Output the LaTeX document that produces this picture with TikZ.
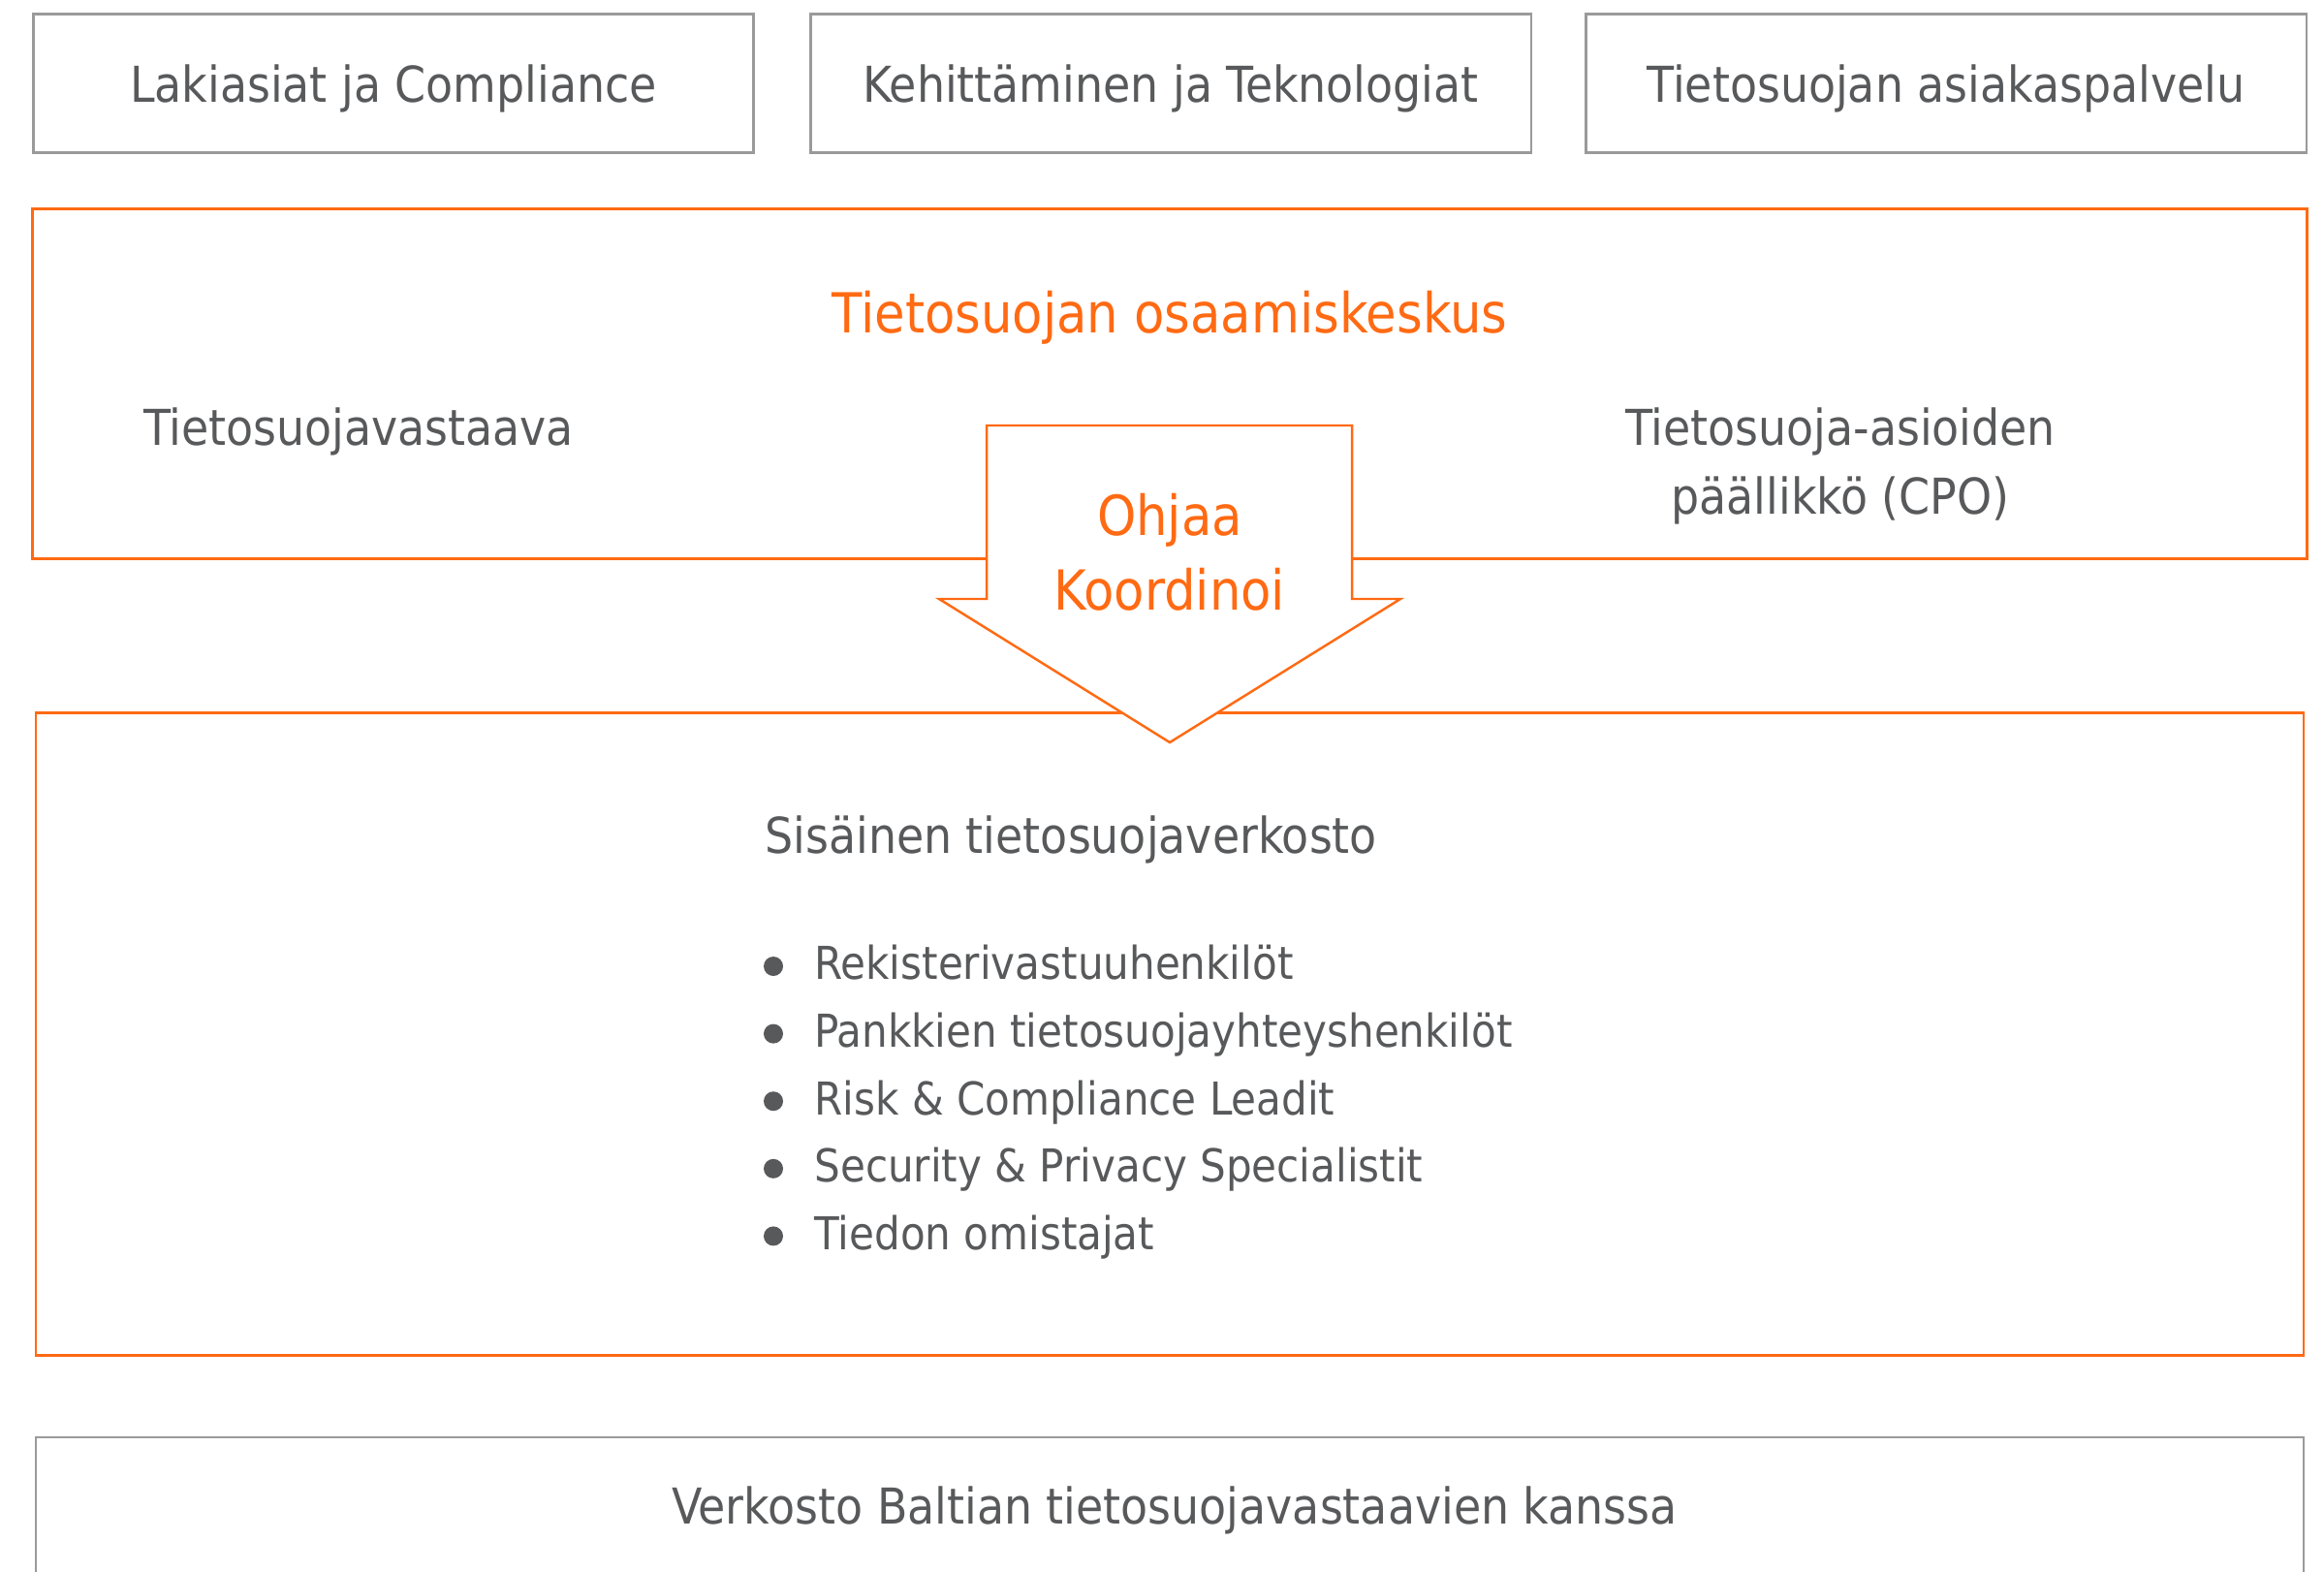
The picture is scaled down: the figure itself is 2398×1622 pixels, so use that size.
\documentclass[tikz,border=0pt]{standalone}
\usepackage{fontspec}
\setmainfont{DejaVu Sans Condensed}
\usepackage{tikz}
\definecolor{txtgray}{HTML}{58595B}
\definecolor{boxgray}{HTML}{9A9A9A}
\definecolor{nordorange}{HTML}{FF6A13}
\tikzset{
  unitbox/.style={draw=boxgray, line width=0.7pt, minimum width=7.43cm, minimum height=1.43cm, text depth=0pt, text=txtgray, font=\fontsize{14.5}{17}\selectfont},
  hubbox/.style={draw=nordorange, line width=0.7pt},
  plain/.style={text=txtgray, font=\fontsize{14.5}{20}\selectfont},
  listitem/.style={text=txtgray, font=\fontsize{13.3}{16}\selectfont, anchor=west, text height=0.75em, text depth=0.24em},
}
\begin{document}
\begin{tikzpicture}[x=0.01cm, y=-0.01cm]
\clip (0,0) rectangle (2398,1622);
\fill[white] (0,0) rectangle (2398,1622);
\node[unitbox] at (406,86) (lak) {Lakiasiat ja Compliance};
\node[unitbox] at (1208,86) (keh) {Kehittäminen ja Teknologiat};
\node[unitbox] at (2008,86) (asp) {Tietosuojan asiakaspalvelu};
\node[hubbox, minimum width=23.46cm, minimum height=3.61cm] at (1207,396) (hub) {};
\node[text=nordorange, font=\fontsize{16.2}{19}\selectfont] at (1207,328) (title) {Tietosuojan osaamiskeskus};
\node[plain] at (370,445) (dpo) {Tietosuojavastaava};
\node[plain, align=center] at (1899,481) (cpo) {Tietosuoja-asioiden\\päällikkö (CPO)};
\node[hubbox, minimum width=23.39cm, minimum height=6.63cm] at (1207,1067) (net) {};
\draw[nordorange, line width=0.7pt, fill=white] (1018,439) -- (1395,439) -- (1395,618) -- (1445,618)
  -- (1207,766) -- (969,618) -- (1018,618) -- cycle;
\node[text=nordorange, align=center, font=\fontsize{16.2}{22}\selectfont] at (1207,570) (ohj) {Ohjaa\\Koordinoi};
\node[plain, anchor=west] at (777,866) (sis) {Sisäinen tietosuojaverkosto};
\foreach \item [count=\i] in {Rekisterivastuuhenkilöt, Pankkien tietosuojayhteyshenkilöt,
  Risk \& Compliance Leadit, Security \& Privacy Specialistit, Tiedon omistajat} {
  \fill[txtgray] (798,{997+69.6*(\i-1)}) circle (10);
  \node[listitem] at (828,{1002+69.6*(\i-1)}) (li\i) {\item};
}
\node[draw=boxgray, line width=0.7pt, minimum width=23.39cm, minimum height=2.8cm, anchor=north] at (1207,1482) (balt) {};
\node[plain] at (1212,1558) (baltxt) {Verkosto Baltian tietosuojavastaavien kanssa};
\end{tikzpicture}
\end{document}
